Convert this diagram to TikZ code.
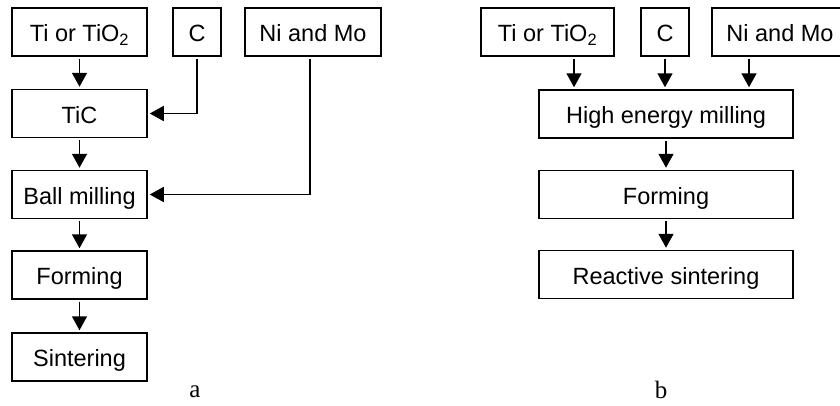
\documentclass[tikz,border=0pt]{standalone}
\usepackage{fontspec}
\setsansfont{Liberation Sans}
\newfontfamily\panelfont{Liberation Serif}
\usepackage{tikz}
\usetikzlibrary{arrows.meta}

\begin{document}
\begin{tikzpicture}[x=1pt, y=-1pt,
    box/.style={draw, line width=1.5pt, minimum height=48pt, inner sep=0pt,
      text height=24pt, text depth=5pt, font=\sffamily\fontsize{23.5}{28}\selectfont},
    arr/.style={-{Triangle[length=14pt,width=15pt]}, line width=1.6pt, shorten <=2pt, shorten >=2pt},
    panel/.style={font=\panelfont\fontsize{25}{28}\selectfont}]
    \useasboundingbox (0,0) rectangle (840,405);
    % a
    \node [box, minimum width=135pt] (tiA) at (79.5,32) {Ti or TiO\textsubscript{2}};
    \node [box, minimum width=48pt] (cA) at (197,32) {C};
    \node [box, minimum width=136pt] (nimoA) at (313,32) {Ni and Mo};
    \node [box, minimum width=135pt] (ticA) at (79.5,113.5) {TiC};
    \node [box, minimum width=135pt] (ballA) at (79.5,194.5) {Ball milling};
    \node [box, minimum width=135pt] (formA) at (79.5,275) {Forming};
    \node [box, minimum width=135pt] (sintA) at (79.5,357) {Sintering};
    \draw [arr] (tiA) -- (ticA);
    \draw [arr] (ticA) -- (ballA);
    \draw [arr] (ballA) -- (formA);
    \draw [arr] (formA) -- (sintA);
    \draw [arr] (cA.south) |- (ticA.east);
    \draw [arr] ([xshift=-3pt]nimoA.south) |- (ballA.east);
    \node [panel] (labA) at (195,392) {a};
    % b
    \node [box, minimum width=133pt] (tiB) at (547.5,32) {Ti or TiO\textsubscript{2}};
    \node [box, minimum width=48pt] (cB) at (665,32) {C};
    \node [box, minimum width=136pt] (nimoB) at (780,32) {Ni and Mo};
    \node [box, minimum width=254pt] (hemB) at (666,114) {High energy milling};
    \node [box, minimum width=254pt] (formB) at (666,194.5) {Forming};
    \node [box, minimum width=254pt] (reacB) at (666,274.5) {Reactive sintering};
    \draw [arr] ([xshift=26.5pt]tiB.south) -- ([xshift=26.5pt]tiB.south |- hemB.north);
    \draw [arr] (cB.south) -- (cB.south |- hemB.north);
    \draw [arr] ([xshift=-31pt]nimoB.south) -- ([xshift=-31pt]nimoB.south |- hemB.north);
    \draw [arr] (hemB) -- (formB);
    \draw [arr] (formB) -- (reacB);
    \node [panel] (labB) at (661,390) {b};
  \end{tikzpicture}
\end{document}
